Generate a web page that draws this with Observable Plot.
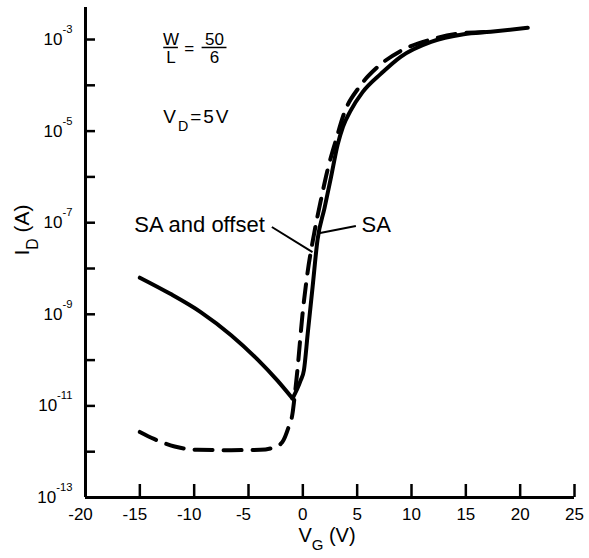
<!DOCTYPE html>
<html>
<head>
<meta charset="utf-8">
<script src="https://cdn.jsdelivr.net/npm/d3@7"></script>
<script src="https://cdn.jsdelivr.net/npm/@observablehq/plot@0.6"></script>
<style>
  html, body { margin: 0; padding: 0; background: #fff; }
  #chart svg { display: block; }
</style>
</head>
<body>
<div id="chart"></div>
<script>
// Transfer characteristic I_D(V_G) of the self-aligned TFTs, V_D = 5 V, log current axis.

// Solid curve "SA": falling leakage branch, then the turn-on branch
const vgSaOff = [-15, -12.2, -9.4, -6.6, -4.2, -2.35, -0.95];
const idSaOff = [6.3e-9, 2.8e-9, 1.12e-9, 3.5e-10, 1.05e-10, 3.6e-11, 1.45e-11];
const vgSaOn = [-0.95, -0.2, 0.1, 0.45, 0.9, 1.35, 2.0, 2.6, 3.2, 3.7, 4.4, 5.5, 7.2, 9.0, 11.8, 14.8, 17.3, 20.7];
const idSaOn = [1.45e-11, 3.6e-11, 6.0e-11, 3.8e-10, 4.0e-9, 4.2e-8, 2.1e-7, 1.0e-6, 5.0e-6, 1.26e-5, 2.8e-5, 7.1e-5, 1.8e-4, 4.2e-4, 8.9e-4, 1.3e-3, 1.48e-3, 1.8e-3];

// Dashed curve "SA and offset"
const vgOffset = [-15, -13.7, -11.8, -9.7, -6.6, -3.9, -2.6, -1.9, -1.3, -0.95, -0.8, -0.5, -0.03, 0.43, 1.04, 1.66, 2.27, 3.04, 3.8, 5.18, 6.87, 9.17, 11.78, 14.5, 17.3];
const idOffset = [2.7e-12, 1.9e-12, 1.3e-12, 1.1e-12, 1.08e-12, 1.1e-12, 1.26e-12, 1.6e-12, 3.5e-12, 6.8e-12, 1.3e-11, 6.0e-11, 1.0e-9, 8.0e-9, 5.8e-8, 3.1e-7, 1.4e-6, 6.3e-6, 2.45e-5, 9.1e-5, 2.5e-4, 5.9e-4, 1.0e-3, 1.36e-3, 1.48e-3];

// Axes
const xTicks = [-20, -15, -10, -5, 0, 5, 10, 15, 20, 25];
const yTicks = [1e-13, 1e-12, 1e-11, 1e-10, 1e-9, 1e-8, 1e-7, 1e-6, 1e-5, 1e-4, 1e-3];
const yLabelTicks = [1e-13, 1e-11, 1e-9, 1e-7, 1e-5, 1e-3];

// Curve labels with their leader lines
const curveLabels = [
  {vg: -3.5, id: 8.8e-8, text: "SA and offset", anchor: "end"},
  {vg: 5.4, id: 8.8e-8, text: "SA", anchor: "start"}
];
const leaders = [
  {vg1: -2.85, id1: 8.05e-8, vg2: 0.89, id2: 2.29e-8},
  {vg1: 1.47, id1: 5.86e-8, vg2: 4.88, id2: 8.5e-8}
];

// Geometry ratio W/L = 50/6 and drain bias
const ratioTerms = [
  {vg: -12.13, id: 1.0e-3, text: "W"},
  {vg: -12.13, id: 4.1e-4, text: "L"},
  {vg: -10.45, id: 6.5e-4, text: "="},
  {vg: -8.13, id: 1.0e-3, text: "50"},
  {vg: -8.13, id: 4.1e-4, text: "6"}
];
const ratioBars = [
  {vg1: -12.8, vg2: -11.45, id: 6.7e-4},
  {vg1: -9.27, vg2: -6.98, id: 6.7e-4}
];
const biasNote = [{vg: -12.85, id: 2.05e-5, text: "V_{D}=5V"}];

const zipPts = (xs, ys) => xs.map((v, i) => ({vg: v, id: ys[i]}));

const chart = Plot.plot({
  width: 589,
  height: 558,
  marginTop: 7,
  marginRight: 15,
  marginBottom: 61,
  marginLeft: 85,
  style: {fontFamily: "'Liberation Sans', Arial, sans-serif", fontSize: "17px", background: "#fff", color: "#000"},
  x: {domain: [-20, 25]},
  y: {type: "log", domain: [1e-13, 5e-3]},
  marks: [
    // axis lines
    Plot.ruleX([-20], {strokeWidth: 3}),
    Plot.ruleY([1e-13], {strokeWidth: 3}),
    // inward ticks
    Plot.axisX(xTicks, {tickSize: -13, strokeWidth: 2.5, tickFormat: () => "", label: null}),
    Plot.axisY(yTicks, {tickSize: -10, strokeWidth: 2.5, tickFormat: () => "", label: null}),
    // tick labels
    Plot.axisX(xTicks.filter(v => v < 0), {tickSize: 0, tickPadding: 10, dx: -5, fontSize: 17, tickFormat: d => String(d), label: null}),
    Plot.axisX(xTicks.filter(v => v >= 0), {tickSize: 0, tickPadding: 10, fontSize: 17, tickFormat: d => String(d), label: null}),
    Plot.axisY(yLabelTicks, {tickSize: 0, tickPadding: 13, fontSize: 17, tickFormat: d => `10^{${Math.round(Math.log10(d))}}`, label: null}),
    // axis titles
    Plot.text(["V_{G} (V)"], {text: d => d, frameAnchor: "bottom", dy: 44, dx: -3, fontSize: 20}),
    Plot.text(["I_{D} (A)"], {text: d => d, frameAnchor: "left", rotate: -90, dx: -63, dy: 3, fontSize: 21}),
    // curves
    Plot.line(zipPts(vgSaOff, idSaOff), {x: "vg", y: "id", curve: "monotone-x", strokeWidth: 4, strokeLinecap: "round"}),
    Plot.line(zipPts(vgSaOn, idSaOn), {x: "vg", y: "id", curve: "monotone-x", strokeWidth: 4, strokeLinecap: "round"}),
    Plot.line(zipPts(vgOffset, idOffset), {x: "vg", y: "id", curve: "monotone-x", strokeWidth: 4, strokeDasharray: "18,11"}),
    // curve labels
    Plot.link(leaders, {x1: "vg1", y1: "id1", x2: "vg2", y2: "id2", strokeWidth: 2}),
    Plot.text(curveLabels.filter(d => d.anchor === "end"), {x: "vg", y: "id", text: "text", textAnchor: "end", fontSize: 22}),
    Plot.text(curveLabels.filter(d => d.anchor === "start"), {x: "vg", y: "id", text: "text", textAnchor: "start", fontSize: 22}),
    // W/L and V_D notes
    Plot.text(ratioTerms, {x: "vg", y: "id", text: "text", fontSize: 17}),
    Plot.ruleY(ratioBars, {y: "id", x1: "vg1", x2: "vg2", strokeWidth: 1.5}),
    Plot.text(biasNote, {x: "vg", y: "id", text: "text", textAnchor: "start", fontSize: 19})
  ]
});

document.getElementById("chart").appendChild(chart);

// Turn "_{..}" and "^{..}" into subscript / superscript tspans
function applyScripts(root) {
  const NS = "http://www.w3.org/2000/svg";
  root.querySelectorAll("text").forEach(el => {
    const src = el.textContent;
    if (!/[_^]\{/.test(src)) return;
    const size = parseFloat(getComputedStyle(el).fontSize) || 16;
    const parts = src.split(/([_^]\{[^}]*\})/).filter(Boolean);
    el.textContent = "";
    let offset = 0;
    for (const part of parts) {
      const m = /^([_^])\{(.*)\}$/.exec(part);
      const ts = document.createElementNS(NS, "tspan");
      if (m) {
        const sub = m[1] === "_";
        const shift = sub ? 0.42 * size : -0.7 * size;
        ts.setAttribute("font-size", (sub ? 0.75 : 0.66) * size);
        ts.setAttribute("dy", shift - offset);
        offset = shift;
        ts.textContent = m[2];
      } else {
        if (offset) ts.setAttribute("dy", -offset);
        offset = 0;
        ts.textContent = part;
      }
      el.appendChild(ts);
    }
    // the drain-bias note is set a little wider
    if (src === biasNote[0].text) el.style.letterSpacing = "2px";
  });
}
applyScripts(chart);
</script>
</body>
</html>
